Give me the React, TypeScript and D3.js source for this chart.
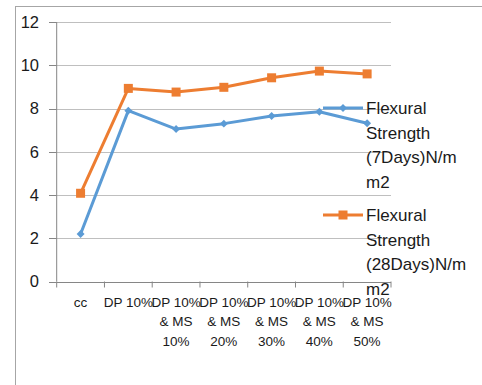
import React from "react";
import * as d3 from "d3";

// Mix designs along the x axis (each label wraps onto several lines)
const categories: string[][] = [
  ["cc"],
  ["DP 10%"],
  ["DP 10%", "& MS", "10%"],
  ["DP 10%", "& MS", "20%"],
  ["DP 10%", "& MS", "30%"],
  ["DP 10%", "& MS", "40%"],
  ["DP 10%", "& MS", "50%"],
];

// Flexural strength, N/mm2
const strength7Days: number[] = [2.2, 7.9, 7.05, 7.3, 7.65, 7.85, 7.32];
const strength28Days: number[] = [4.08, 8.93, 8.76, 8.98, 9.42, 9.73, 9.6];

const yTicks: number[] = [0, 2, 4, 6, 8, 10, 12];

const legendLabels7: string[] = ["Flexural", "Strength", "(7Days)N/m", "m2"];
const legendLabels28: string[] = ["Flexural", "Strength", "(28Days)N/m", "m2"];

const W = 482;
const H = 385;
const FONT = "'Liberation Sans', Arial, sans-serif";
const BLUE = "#5B9BD5";
const ORANGE = "#ED7D31";
const TEXT = "#1a1a1a";

export default function App() {
  const plotLeft = 56.7;
  const plotRight = 391;
  const plotTop = 22;
  const plotBottom = 281.5;

  const x = d3
    .scaleBand<number>()
    .domain(categories.map((_, i) => i))
    .range([plotLeft, plotRight]);
  const y = d3.scaleLinear().domain([0, 12]).range([plotBottom, plotTop]);

  const cx = (i: number) => (x(i) as number) + x.bandwidth() / 2;
  const line = d3
    .line<number>()
    .x((_, i) => cx(i))
    .y((d) => y(d));

  const diamond = d3.symbol().type(d3.symbolDiamond2).size(40)() as string;

  const boundaries = d3.range(categories.length + 1).map((i) =>
    i < categories.length ? (x(i) as number) : plotRight
  );

  const legend7Y = 108;
  const legend28Y = 215;
  const legendLineX0 = 323;
  const legendLineX1 = 363;
  const legendTextX = 366;
  const legendLH = 24.5;

  return (
    <svg
      width={W}
      height={H}
      style={{ position: "absolute", left: 0, top: 0, background: "#fff" }}
    >
      {/* chart frame */}
      <rect x={15.5} y={6.5} width={W} height={H} fill="none" stroke="#A6A6A6" strokeWidth={1} />

      {/* horizontal gridlines */}
      {yTicks.slice(1).map((t) => (
        <line
          key={"g" + t}
          x1={plotLeft}
          x2={plotRight}
          y1={Math.round(y(t)) + 0.5}
          y2={Math.round(y(t)) + 0.5}
          stroke="#BFBFBF"
          strokeWidth={1}
        />
      ))}

      {/* y axis */}
      <line x1={plotLeft} x2={plotLeft} y1={plotTop} y2={plotBottom} stroke="#868686" strokeWidth={1} />
      {yTicks.map((t) => (
        <g key={"y" + t}>
          <line
            x1={49}
            x2={plotLeft}
            y1={Math.round(y(t)) + 0.5}
            y2={Math.round(y(t)) + 0.5}
            stroke="#868686"
            strokeWidth={1}
          />
          <text
            x={39}
            y={y(t)}
            dy="0.36em"
            textAnchor="end"
            fontFamily={FONT}
            fontSize={16.5}
            fill={TEXT}
          >
            {t}
          </text>
        </g>
      ))}

      {/* x axis */}
      <line
        x1={plotLeft}
        x2={plotRight}
        y1={Math.round(plotBottom) + 0.5}
        y2={Math.round(plotBottom) + 0.5}
        stroke="#868686"
        strokeWidth={1}
      />
      {boundaries.map((bx, i) => (
        <line
          key={"xt" + i}
          x1={bx}
          x2={bx}
          y1={plotBottom}
          y2={plotBottom + 6}
          stroke="#868686"
          strokeWidth={1}
        />
      ))}
      {categories.map((lines, i) => (
        <text
          key={"xl" + i}
          x={cx(i)}
          y={306.5}
          textAnchor="middle"
          fontFamily={FONT}
          fontSize={13.5}
          fill={TEXT}
        >
          {lines.map((l, j) => (
            <tspan key={j} x={cx(i)} dy={j === 0 ? 0 : 19.5}>
              {l}
            </tspan>
          ))}
        </text>
      ))}

      {/* 7 days series */}
      <path d={line(strength7Days) as string} fill="none" stroke={BLUE} strokeWidth={3} strokeLinejoin="round" />
      {strength7Days.map((v, i) => (
        <path key={"b" + i} d={diamond} transform={`translate(${cx(i)},${y(v)})`} fill={BLUE} />
      ))}

      {/* 28 days series */}
      <path d={line(strength28Days) as string} fill="none" stroke={ORANGE} strokeWidth={3} strokeLinejoin="round" />
      {strength28Days.map((v, i) => (
        <rect key={"o" + i} x={cx(i) - 4.5} y={y(v) - 4.5} width={9} height={9} fill={ORANGE} />
      ))}

      {/* legend */}
      <line x1={legendLineX0} x2={legendLineX1} y1={legend7Y} y2={legend7Y} stroke={BLUE} strokeWidth={3} />
      <path d={diamond} transform={`translate(${(legendLineX0 + legendLineX1) / 2},${legend7Y})`} fill={BLUE} />
      <text x={legendTextX} y={legend7Y} fontFamily={FONT} fontSize={17} fill={TEXT}>
        {legendLabels7.map((l, j) => (
          <tspan key={j} x={legendTextX} dy={j === 0 ? "0.36em" : legendLH}>
            {l}
          </tspan>
        ))}
      </text>

      <line x1={legendLineX0} x2={legendLineX1} y1={legend28Y} y2={legend28Y} stroke={ORANGE} strokeWidth={3} />
      <rect
        x={(legendLineX0 + legendLineX1) / 2 - 4.5}
        y={legend28Y - 4.5}
        width={9}
        height={9}
        fill={ORANGE}
      />
      <text x={legendTextX} y={legend28Y} fontFamily={FONT} fontSize={17} fill={TEXT}>
        {legendLabels28.map((l, j) => (
          <tspan key={j} x={legendTextX} dy={j === 0 ? "0.36em" : legendLH}>
            {l}
          </tspan>
        ))}
      </text>
    </svg>
  );
}
